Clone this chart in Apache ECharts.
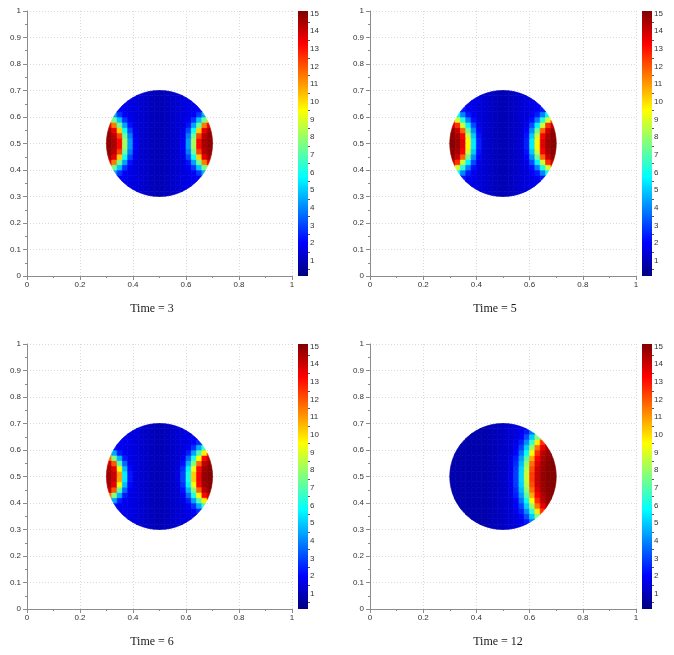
<!DOCTYPE html>
<html><head><meta charset="utf-8">
<script src="https://cdn.jsdelivr.net/npm/echarts@6/dist/echarts.min.js"></script>
<style>html,body{margin:0;padding:0;background:#fff}#c{width:674px;height:655px}</style>
</head><body><div id="c"></div>
<script>
const n = null;
// cell centres (data units) of the sampled field inside the disc
const cellX = [0.31,0.33,0.35,0.37,0.39,0.41,0.43,0.45,0.47,0.49,0.51,0.53,0.55,0.57,0.59,0.61,0.63,0.65,0.67,0.69];
const cellY = [0.31,0.33,0.35,0.37,0.39,0.41,0.43,0.45,0.47,0.49,0.51,0.53,0.55,0.57,0.59,0.61,0.63,0.65,0.67,0.69];
const cellSize = 0.02;
const discCenter = [0.5, 0.5];
const discRadius = 0.2;
const panelTitles = ['Time = 3', 'Time = 5', 'Time = 6', 'Time = 12'];
const colorMin = 0.13, colorMax = 15.15;
const colorbarLabels = [1,2,3,4,5,6,7,8,9,10,11,12,13,14,15];
const colorbarMinorTicks = [0.5,1.5,2.5,3.5,4.5,5.5,6.5,7.5,8.5,9.5,10.5,11.5,12.5,13.5,14.5];
const jetColors = ['#00007F','#0000FF','#007FFF','#00FFFF','#7FFF7F','#FFFF00','#FF7F00','#FF0000','#7F0000'];

// rows from y=0.31 (first) to y=0.69 (last), columns x=0.31..0.69
const time3 = [
 [n,n,n,n,n,1.5,1.35,1.2,1.05,0.95,0.95,1.05,1.2,1.35,1.5,n,n,n,n,n],
 [n,n,n,n,1.65,1.5,1.35,1.2,1.05,0.95,0.95,1.05,1.2,1.35,1.5,1.65,n,n,n,n],
 [n,n,1.75,1.75,1.65,1.5,1.35,1.2,1.05,0.95,0.95,1.05,1.2,1.35,1.5,1.65,1.75,1.75,n,n],
 [n,n,1.9,1.75,1.65,1.5,1.35,1.2,1.05,0.95,0.95,1.05,1.2,1.35,1.5,1.65,1.75,1.9,n,n],
 [n,4.4,2.8,1.9,1.65,1.5,1.35,1.2,1.05,0.95,0.95,1.05,1.2,1.35,1.5,1.65,1.9,2.8,4.4,n],
 [10.2,7.4,4.9,2.8,1.8,1.5,1.35,1.2,1.05,0.95,0.95,1.05,1.2,1.35,1.5,1.8,2.8,4.9,7.4,10.2],
 [13.6,11.5,7.4,4.4,2.25,1.5,1.35,1.2,1.05,0.95,0.95,1.05,1.2,1.35,1.5,2.25,4.4,7.4,11.5,13.6],
 [14.55,13.6,10.2,5.95,3.05,1.65,1.35,1.2,1.05,0.95,0.95,1.05,1.2,1.35,1.65,3.05,5.95,10.2,13.6,14.55],
 [14.85,14.3,12.3,7.4,3.85,1.75,1.35,1.2,1.05,0.95,0.95,1.05,1.2,1.35,1.75,3.85,7.4,12.3,14.3,14.85],
 [14.9,14.55,13.2,8.2,4.3,1.9,1.35,1.2,1.05,0.95,0.95,1.05,1.2,1.35,1.9,4.3,8.2,13.2,14.55,14.9],
 [14.9,14.55,13.2,8.2,4.3,1.9,1.35,1.2,1.05,0.95,0.95,1.05,1.2,1.35,1.9,4.3,8.2,13.2,14.55,14.9],
 [14.85,14.3,12.3,7.4,3.85,1.75,1.35,1.2,1.05,0.95,0.95,1.05,1.2,1.35,1.75,3.85,7.4,12.3,14.3,14.85],
 [14.55,13.6,10.2,5.95,3.05,1.65,1.35,1.2,1.05,0.95,0.95,1.05,1.2,1.35,1.65,3.05,5.95,10.2,13.6,14.55],
 [13.6,11.5,7.4,4.4,2.25,1.5,1.35,1.2,1.05,0.95,0.95,1.05,1.2,1.35,1.5,2.25,4.4,7.4,11.5,13.6],
 [10.2,7.4,4.9,2.8,1.8,1.5,1.35,1.2,1.05,0.95,0.95,1.05,1.2,1.35,1.5,1.8,2.8,4.9,7.4,10.2],
 [n,4.4,2.8,1.9,1.65,1.5,1.35,1.2,1.05,0.95,0.95,1.05,1.2,1.35,1.5,1.65,1.9,2.8,4.4,n],
 [n,n,1.9,1.75,1.65,1.5,1.35,1.2,1.05,0.95,0.95,1.05,1.2,1.35,1.5,1.65,1.75,1.9,n,n],
 [n,n,1.75,1.75,1.65,1.5,1.35,1.2,1.05,0.95,0.95,1.05,1.2,1.35,1.5,1.65,1.75,1.75,n,n],
 [n,n,n,n,1.65,1.5,1.35,1.2,1.05,0.95,0.95,1.05,1.2,1.35,1.5,1.65,n,n,n,n],
 [n,n,n,n,n,1.5,1.35,1.2,1.05,0.95,0.95,1.05,1.2,1.35,1.5,n,n,n,n,n]
];
const time5 = [
 [n,n,n,n,n,1.5,1.35,1.2,1.05,0.95,0.95,1.05,1.2,1.35,1.5,n,n,n,n,n],
 [n,n,n,n,1.65,1.5,1.35,1.2,1.05,0.95,0.95,1.05,1.2,1.35,1.5,1.65,n,n,n,n],
 [n,n,1.75,1.75,1.65,1.5,1.35,1.2,1.05,0.95,0.95,1.05,1.2,1.35,1.5,1.65,1.75,1.75,n,n],
 [n,n,2.3,1.85,1.65,1.5,1.35,1.2,1.05,0.95,0.95,1.05,1.2,1.35,1.5,1.65,1.85,2.3,n,n],
 [n,5.7,3.95,2.4,1.75,1.5,1.35,1.2,1.05,0.95,0.95,1.05,1.2,1.35,1.5,1.75,2.4,3.95,5.7,n],
 [12.1,8.9,6.25,3.85,2.2,1.5,1.35,1.2,1.05,0.95,0.95,1.05,1.2,1.35,1.5,2.2,3.85,6.25,8.9,12.1],
 [14.05,12.6,8.8,5.6,3.1,1.7,1.35,1.2,1.05,0.95,0.95,1.05,1.2,1.35,1.7,3.1,5.6,8.8,12.6,14.05],
 [14.75,14.05,11.8,7.3,4.1,2.0,1.35,1.2,1.05,0.95,0.95,1.05,1.2,1.35,2.0,4.1,7.3,11.8,14.05,14.75],
 [14.95,14.55,13.3,8.8,5.0,2.25,1.35,1.2,1.05,0.95,0.95,1.05,1.2,1.35,2.25,5.0,8.8,13.3,14.55,14.95],
 [15.0,14.7,13.7,9.6,5.5,2.4,1.45,1.2,1.05,0.95,0.95,1.05,1.2,1.45,2.4,5.5,9.6,13.7,14.7,15.0],
 [15.0,14.7,13.7,9.6,5.5,2.4,1.45,1.2,1.05,0.95,0.95,1.05,1.2,1.45,2.4,5.5,9.6,13.7,14.7,15.0],
 [14.95,14.55,13.3,8.8,5.0,2.25,1.35,1.2,1.05,0.95,0.95,1.05,1.2,1.35,2.25,5.0,8.8,13.3,14.55,14.95],
 [14.75,14.05,11.8,7.3,4.1,2.0,1.35,1.2,1.05,0.95,0.95,1.05,1.2,1.35,2.0,4.1,7.3,11.8,14.05,14.75],
 [14.05,12.6,8.8,5.6,3.1,1.7,1.35,1.2,1.05,0.95,0.95,1.05,1.2,1.35,1.7,3.1,5.6,8.8,12.6,14.05],
 [12.1,8.9,6.25,3.85,2.2,1.5,1.35,1.2,1.05,0.95,0.95,1.05,1.2,1.35,1.5,2.2,3.85,6.25,8.9,12.1],
 [n,5.7,3.95,2.4,1.75,1.5,1.35,1.2,1.05,0.95,0.95,1.05,1.2,1.35,1.5,1.75,2.4,3.95,5.7,n],
 [n,n,2.3,1.85,1.65,1.5,1.35,1.2,1.05,0.95,0.95,1.05,1.2,1.35,1.5,1.65,1.85,2.3,n,n],
 [n,n,1.75,1.75,1.65,1.5,1.35,1.2,1.05,0.95,0.95,1.05,1.2,1.35,1.5,1.65,1.75,1.75,n,n],
 [n,n,n,n,1.65,1.5,1.35,1.2,1.05,0.95,0.95,1.05,1.2,1.35,1.5,1.65,n,n,n,n],
 [n,n,n,n,n,1.5,1.35,1.2,1.05,0.95,0.95,1.05,1.2,1.35,1.5,n,n,n,n,n]
];
const time6 = [
 [n,n,n,n,n,1.5,1.35,1.2,1.05,0.95,0.95,1.05,1.2,1.35,1.5,n,n,n,n,n],
 [n,n,n,n,1.65,1.5,1.35,1.2,1.05,0.95,0.95,1.05,1.2,1.35,1.5,1.65,n,n,n,n],
 [n,n,1.75,1.75,1.65,1.5,1.35,1.2,1.05,0.95,0.95,1.05,1.2,1.35,1.5,1.65,1.75,1.9,n,n],
 [n,n,1.75,1.75,1.65,1.5,1.35,1.2,1.05,0.95,0.95,1.05,1.2,1.35,1.5,1.65,1.95,2.6,n,n],
 [n,2.2,1.8,1.75,1.65,1.5,1.35,1.2,1.05,0.95,0.95,1.05,1.2,1.35,1.5,1.85,2.7,4.55,6.55,n],
 [6.55,4.45,2.45,1.8,1.65,1.5,1.35,1.2,1.05,0.95,0.95,1.05,1.2,1.35,1.55,2.4,4.4,6.95,9.75,12.65],
 [11.7,7.7,4.6,2.35,1.65,1.5,1.35,1.2,1.05,0.95,0.95,1.05,1.2,1.35,1.75,3.55,6.2,9.55,13.2,14.25],
 [14.0,12.0,7.05,3.55,1.8,1.5,1.35,1.2,1.05,0.95,0.95,1.05,1.2,1.35,2.2,4.65,7.75,11.75,14.2,14.85],
 [14.55,13.65,9.4,4.8,2.1,1.5,1.35,1.2,1.05,0.95,0.95,1.05,1.2,1.5,2.7,5.55,9.35,13.2,14.65,15.0],
 [14.65,14.05,10.9,5.5,2.3,1.5,1.35,1.2,1.05,0.95,0.95,1.05,1.2,1.55,3.0,6.05,10.25,13.45,14.8,15.05],
 [14.65,14.05,10.9,5.5,2.3,1.5,1.35,1.2,1.05,0.95,0.95,1.05,1.2,1.55,3.0,6.05,10.25,13.45,14.8,15.05],
 [14.55,13.65,9.4,4.8,2.1,1.5,1.35,1.2,1.05,0.95,0.95,1.05,1.2,1.5,2.7,5.55,9.35,13.2,14.65,15.0],
 [14.0,12.0,7.05,3.55,1.8,1.5,1.35,1.2,1.05,0.95,0.95,1.05,1.2,1.35,2.2,4.65,7.75,11.75,14.2,14.85],
 [11.7,7.7,4.6,2.35,1.65,1.5,1.35,1.2,1.05,0.95,0.95,1.05,1.2,1.35,1.75,3.55,6.2,9.55,13.2,14.25],
 [6.55,4.45,2.45,1.8,1.65,1.5,1.35,1.2,1.05,0.95,0.95,1.05,1.2,1.35,1.55,2.4,4.4,6.95,9.75,12.65],
 [n,2.2,1.8,1.75,1.65,1.5,1.35,1.2,1.05,0.95,0.95,1.05,1.2,1.35,1.5,1.85,2.7,4.55,6.55,n],
 [n,n,1.75,1.75,1.65,1.5,1.35,1.2,1.05,0.95,0.95,1.05,1.2,1.35,1.5,1.65,1.95,2.6,n,n],
 [n,n,1.75,1.75,1.65,1.5,1.35,1.2,1.05,0.95,0.95,1.05,1.2,1.35,1.5,1.65,1.75,1.9,n,n],
 [n,n,n,n,1.65,1.5,1.35,1.2,1.05,0.95,0.95,1.05,1.2,1.35,1.5,1.65,n,n,n,n],
 [n,n,n,n,n,1.5,1.35,1.2,1.05,0.95,0.95,1.05,1.2,1.35,1.5,n,n,n,n,n]
];
const time12 = [
 [n,n,n,n,n,0.8,0.8,0.9,1.0,1.1,1.2,1.35,1.5,1.6,1.9,n,n,n,n,n],
 [n,n,n,n,0.8,0.8,0.8,0.9,1.0,1.1,1.2,1.35,1.5,1.75,2.35,3.75,n,n,n,n],
 [n,n,0.8,0.8,0.8,0.8,0.8,0.9,1.0,1.1,1.2,1.35,1.5,2.0,3.15,5.0,7.7,10.95,n,n],
 [n,n,0.8,0.8,0.8,0.8,0.8,0.9,1.0,1.1,1.2,1.35,1.65,2.45,4.1,6.45,9.8,12.6,n,n],
 [n,0.8,0.8,0.8,0.8,0.8,0.8,0.9,1.0,1.1,1.2,1.35,1.85,3.0,5.1,8.05,11.55,13.55,14.5,n],
 [0.8,0.8,0.8,0.8,0.8,0.8,0.8,0.9,1.0,1.1,1.2,1.35,2.05,3.7,5.9,9.55,12.6,14.2,14.75,15.0],
 [0.8,0.8,0.8,0.8,0.8,0.8,0.8,0.9,1.0,1.1,1.2,1.5,2.4,4.3,7.0,10.75,13.3,14.45,14.9,15.05],
 [0.8,0.8,0.8,0.8,0.8,0.8,0.8,0.9,1.0,1.1,1.2,1.6,2.6,4.75,7.85,11.6,13.7,14.65,15.0,15.05],
 [0.8,0.8,0.8,0.8,0.8,0.8,0.8,0.9,1.0,1.1,1.2,1.65,2.85,5.1,8.4,12.1,14.0,14.7,15.0,15.05],
 [0.8,0.8,0.8,0.8,0.8,0.8,0.8,0.9,1.0,1.1,1.2,1.7,2.9,5.2,8.7,12.4,14.1,14.8,15.05,15.05],
 [0.8,0.8,0.8,0.8,0.8,0.8,0.8,0.9,1.0,1.1,1.2,1.7,2.9,5.2,8.7,12.4,14.1,14.8,15.05,15.05],
 [0.8,0.8,0.8,0.8,0.8,0.8,0.8,0.9,1.0,1.1,1.2,1.65,2.85,5.1,8.4,12.1,14.0,14.7,15.0,15.05],
 [0.8,0.8,0.8,0.8,0.8,0.8,0.8,0.9,1.0,1.1,1.2,1.6,2.6,4.75,7.85,11.6,13.7,14.65,15.0,15.05],
 [0.8,0.8,0.8,0.8,0.8,0.8,0.8,0.9,1.0,1.1,1.2,1.5,2.4,4.3,7.0,10.75,13.3,14.45,14.9,15.05],
 [0.8,0.8,0.8,0.8,0.8,0.8,0.8,0.9,1.0,1.1,1.2,1.35,2.05,3.7,5.9,9.55,12.6,14.2,14.75,15.0],
 [n,0.8,0.8,0.8,0.8,0.8,0.8,0.9,1.0,1.1,1.2,1.35,1.85,3.0,5.1,8.05,11.55,13.55,14.5,n],
 [n,n,0.8,0.8,0.8,0.8,0.8,0.9,1.0,1.1,1.2,1.35,1.65,2.45,4.1,6.45,9.8,12.6,n,n],
 [n,n,0.8,0.8,0.8,0.8,0.8,0.9,1.0,1.1,1.2,1.35,1.5,2.0,3.15,5.0,7.7,10.95,n,n],
 [n,n,n,n,0.8,0.8,0.8,0.9,1.0,1.1,1.2,1.35,1.5,1.75,2.35,3.75,n,n,n,n],
 [n,n,n,n,n,0.8,0.8,0.9,1.0,1.1,1.2,1.35,1.5,1.6,1.9,n,n,n,n,n]
];
const panelFields = [time3, time5, time6, time12];

// ---- layout (pixels) ----
const plotBoxes = [
  {left: 27, top: 11, width: 265, height: 265},
  {left: 370, top: 11, width: 266, height: 265},
  {left: 27, top: 344, width: 265, height: 265},
  {left: 370, top: 344, width: 266, height: 265}
];
const barBoxes = [
  {left: 298, top: 11, width: 10, height: 265},
  {left: 642, top: 11, width: 10, height: 265},
  {left: 298, top: 344, width: 10, height: 265},
  {left: 642, top: 344, width: 10, height: 265}
];
const titlePos = [[152, 309], [495, 309], [152, 642], [498, 642]];

const FONT = 'Liberation Sans';
const AXIS_COLOR = '#8c8c8c';

// polygon approximating the disc boundary (data units)
const circlePoly = [];
for (let k = 0; k < 180; k++) {
  const a = 2 * Math.PI * k / 180;
  circlePoly.push([discCenter[0] + discRadius * Math.cos(a), discCenter[1] + discRadius * Math.sin(a)]);
}
function clipConvex(subject, clip) {
  let out = subject;
  for (let e = 0; e < clip.length; e++) {
    if (!out.length) break;
    const A = clip[e], B = clip[(e + 1) % clip.length];
    const inp = out; out = [];
    const inside = p => (B[0] - A[0]) * (p[1] - A[1]) - (B[1] - A[1]) * (p[0] - A[0]) >= 0;
    const inter = (P, Q) => {
      const x1 = P[0], y1 = P[1], x2 = Q[0], y2 = Q[1], x3 = A[0], y3 = A[1], x4 = B[0], y4 = B[1];
      const d = (x1 - x2) * (y3 - y4) - (y1 - y2) * (x3 - x4);
      const t = ((x1 - x3) * (y3 - y4) - (y1 - y3) * (x3 - x4)) / d;
      return [x1 + t * (x2 - x1), y1 + t * (y2 - y1)];
    };
    for (let k = 0; k < inp.length; k++) {
      const P = inp[k], Q = inp[(k + 1) % inp.length];
      const pi = inside(P), qi = inside(Q);
      if (pi) { out.push(P); if (!qi) out.push(inter(P, Q)); }
      else if (qi) out.push(inter(P, Q));
    }
  }
  return out;
}
function renderCell(params, api) {
  const x = api.value(0), y = api.value(1), h = cellSize / 2;
  let poly = [[x - h, y - h], [x + h, y - h], [x + h, y + h], [x - h, y + h]];
  const allIn = poly.every(p => Math.hypot(p[0] - discCenter[0], p[1] - discCenter[1]) <= discRadius * 0.998);
  if (!allIn) poly = clipConvex(poly, circlePoly);
  if (poly.length < 3) return null;
  const pts = poly.map(p => api.coord(p));
  const color = api.visual('color');
  return {type: 'polygon', shape: {points: pts}, style: {fill: color, stroke: color, lineWidth: 0.7}};
}
function renderBar(params, api) {
  const p0 = api.coord([0, api.value(0)]);
  const p1 = api.coord([1, api.value(1)]);
  return {
    type: 'rect',
    shape: {x: p0[0], y: p1[1], width: p1[0] - p0[0], height: p0[1] - p1[1]},
    style: {fill: new echarts.graphic.LinearGradient(0, 1, 0, 0,
      jetColors.map((c, k) => ({offset: k / (jetColors.length - 1), color: c})))}
  };
}

const grid = [], xAxis = [], yAxis = [], series = [], visualMap = [], graphic = [];
const tickStyle = {color: AXIS_COLOR, width: 1};
const labelStyle = {fontSize: 8, color: '#333', fontFamily: FONT};
const splitStyle = {show: true, lineStyle: {color: '#dadada', type: [1, 2], width: 1}};

plotBoxes.forEach((b, k) => {
  grid.push(Object.assign({containLabel: false}, b));
  xAxis.push({gridIndex: k, type: 'value', min: 0, max: 1, interval: 0.2,
    axisLine: {show: true, onZero: false, lineStyle: tickStyle},
    axisTick: {show: true, length: 4, lineStyle: tickStyle},
    minorTick: {show: true, splitNumber: 2, length: 2, lineStyle: tickStyle},
    axisLabel: Object.assign({margin: 5}, labelStyle),
    splitLine: splitStyle});
  yAxis.push({gridIndex: k, type: 'value', min: 0, max: 1, interval: 0.1,
    axisLine: {show: true, onZero: false, lineStyle: tickStyle},
    axisTick: {show: true, length: 4, lineStyle: tickStyle},
    minorTick: {show: true, splitNumber: 2, length: 2, lineStyle: tickStyle},
    axisLabel: Object.assign({margin: 6}, labelStyle),
    splitLine: splitStyle});
});
barBoxes.forEach((b, k) => {
  grid.push(Object.assign({containLabel: false}, b));
  xAxis.push({gridIndex: 4 + k, type: 'value', min: 0, max: 1, show: false});
});
barBoxes.forEach((b, k) => {
  yAxis.push({gridIndex: 4 + k, type: 'value', min: colorMin, max: colorMax, position: 'right', offset: 0,
    axisLine: {show: false}, splitLine: {show: false},
    axisTick: {show: true, length: 3, customValues: colorbarLabels, lineStyle: {color: '#555'}},
    axisLabel: Object.assign({margin: 2, customValues: colorbarLabels}, labelStyle)});
});
barBoxes.forEach((b, k) => {
  yAxis.push({gridIndex: 4 + k, type: 'value', min: colorMin, max: colorMax, position: 'right', offset: 0,
    axisLine: {show: false}, splitLine: {show: false},
    axisTick: {show: true, length: 2, customValues: colorbarMinorTicks, lineStyle: {color: '#555'}},
    axisLabel: {show: false}});
});

panelFields.forEach((rows, k) => {
  const data = [];
  rows.forEach((row, j) => row.forEach((v, i) => { if (v !== null) data.push([cellX[i], cellY[j], v]); }));
  series.push({type: 'custom', xAxisIndex: k, yAxisIndex: k, data: data,
    encode: {x: 0, y: 1}, renderItem: renderCell, silent: true});
  visualMap.push({type: 'continuous', show: false, seriesIndex: k, dimension: 2,
    min: colorMin, max: colorMax, inRange: {color: jetColors}});
});
barBoxes.forEach((b, k) => {
  series.push({type: 'custom', xAxisIndex: 4 + k, yAxisIndex: 4 + k,
    data: [[colorMin, colorMax]], encode: {y: [0, 1]}, renderItem: renderBar, silent: true});
});
panelTitles.forEach((t, k) => {
  graphic.push({type: 'text', x: titlePos[k][0], y: titlePos[k][1],
    style: {text: t, font: '12px "Liberation Serif"', fill: '#1a1a1a', textAlign: 'center', textVerticalAlign: 'middle'}});
});

const chart = echarts.init(document.getElementById('c'), null, {renderer: 'canvas'});
chart.setOption({animation: false, backgroundColor: '#fff', grid, xAxis, yAxis, series, visualMap, graphic});
</script></body></html>
